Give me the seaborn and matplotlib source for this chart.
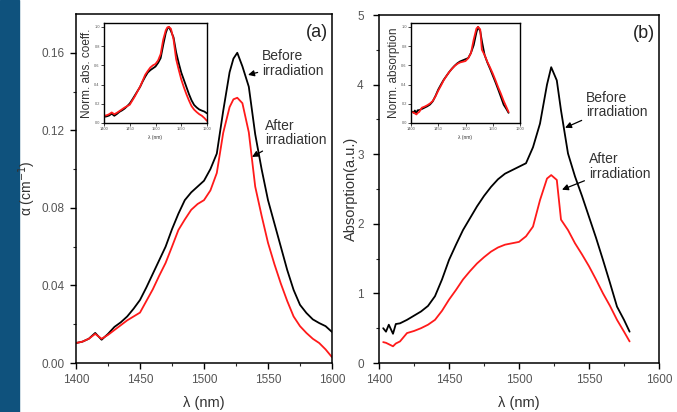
import numpy as np
import pandas as pd
import matplotlib
matplotlib.use("Agg")
import matplotlib.pyplot as plt
import seaborn as sns
from matplotlib.patches import Rectangle

sns.set_style("ticks")
plt.rcParams['font.family'] = ['Liberation Sans', 'DejaVu Sans']

# ---- Panel (a) data: absorption coefficient (cm^-1) ----
wl_a = [1400, 1405, 1410, 1415, 1420, 1425, 1430, 1435, 1440, 1445, 1450, 1455, 1460, 1465,
        1470, 1475, 1480, 1485, 1490, 1495, 1500, 1505, 1510, 1515, 1520, 1523, 1526, 1530,
        1535, 1540, 1545, 1550, 1555, 1560, 1565, 1570, 1575, 1580, 1585, 1590, 1595, 1600]
before_a = [0.0103, 0.0110, 0.0125, 0.0155, 0.0120, 0.0150, 0.0186, 0.0210, 0.0240, 0.0280,
            0.0325, 0.0390, 0.0460, 0.0530, 0.0600, 0.0690, 0.0770, 0.0840, 0.0880, 0.0910,
            0.0940, 0.1000, 0.1080, 0.1300, 0.1500, 0.1570, 0.1600, 0.1530, 0.1425, 0.1180,
            0.1000, 0.0840, 0.0720, 0.0600, 0.0480, 0.0377, 0.0300, 0.0258, 0.0225, 0.0206,
            0.0190, 0.0160]
after_a = [0.0103, 0.0110, 0.0125, 0.0150, 0.0125, 0.0145, 0.0170, 0.0195, 0.0220, 0.0240,
           0.0260, 0.0320, 0.0380, 0.0450, 0.0516, 0.0600, 0.0686, 0.0740, 0.0790, 0.0820,
           0.0840, 0.0890, 0.0980, 0.1187, 0.1320, 0.1360, 0.1368, 0.1340, 0.1190, 0.0910,
           0.0760, 0.0620, 0.0510, 0.0410, 0.0320, 0.0240, 0.0190, 0.0155, 0.0125, 0.0103,
           0.0070, 0.0030]

# ---- Panel (b) data: absorption (a.u.) ----
wl_b = [1403, 1405, 1407, 1410, 1412, 1415, 1420, 1425, 1430, 1435, 1440, 1445, 1450, 1455,
        1460, 1465, 1470, 1475, 1480, 1485, 1490, 1495, 1500, 1505, 1510, 1515, 1520, 1523,
        1527, 1530, 1535, 1540, 1545, 1550, 1555, 1560, 1565, 1570, 1575, 1579]
before_b = [0.50, 0.45, 0.55, 0.42, 0.56, 0.57, 0.62, 0.68, 0.74, 0.82, 0.96, 1.20, 1.48, 1.70,
            1.91, 2.08, 2.25, 2.40, 2.53, 2.64, 2.72, 2.77, 2.82, 2.87, 3.10, 3.44, 4.00, 4.25,
            4.06, 3.63, 3.01, 2.68, 2.40, 2.10, 1.80, 1.48, 1.15, 0.81, 0.62, 0.45]
after_b = [0.30, 0.29, 0.27, 0.24, 0.28, 0.31, 0.43, 0.46, 0.50, 0.55, 0.62, 0.75, 0.91, 1.05,
           1.20, 1.32, 1.43, 1.52, 1.60, 1.66, 1.70, 1.72, 1.74, 1.82, 1.96, 2.34, 2.65, 2.70,
           2.63, 2.06, 1.91, 1.72, 1.56, 1.39, 1.20, 1.00, 0.82, 0.62, 0.45, 0.31]

xticks = [1400, 1450, 1500, 1550, 1600]
yticks_a = [0.00, 0.04, 0.08, 0.12, 0.16]
yticks_b = [0, 1, 2, 3, 4, 5]

def frame(wl, before, after, norm=False):
    b = np.array(before, float)
    a = np.array(after, float)
    if norm:
        b = b / b.max()
        a = a / a.max()
    return pd.concat([
        pd.DataFrame({"wl": wl, "val": b, "state": "Before irradiation"}),
        pd.DataFrame({"wl": wl, "val": a, "state": "After irradiation"}),
    ])

pal = {"Before irradiation": "black", "After irradiation": "#ff1a1a"}
tick_col = "#555555"
text_col = "#333333"

fig = plt.figure(figsize=(6.77, 4.12), dpi=100)
fig.patches.append(Rectangle((0, 0), 19 / 677, 1, transform=fig.transFigure,
                             color="#0F527D", zorder=-1))

axA = fig.add_axes([76 / 677, 1 - 363 / 412, 256 / 677, 349 / 412])
axB = fig.add_axes([379 / 677, 1 - 363 / 412, 280 / 677, 348 / 412])

def style_main(ax):
    for s in ax.spines.values():
        s.set_linewidth(1.1)
        s.set_color("black")
    ax.tick_params(direction="out", length=4, width=1, labelsize=8.5, pad=4,
                   labelcolor=tick_col, colors="black")
    ax.tick_params(which="minor", direction="out", length=2.5, width=0.8)
    ax.tick_params(top=False, right=False, which="both")

arrow = dict(arrowstyle="-|>", color="black", lw=0.9, mutation_scale=9,
             shrinkA=1, shrinkB=0)
ann_kw = dict(fontsize=10, color=text_col, va="center", ha="left",
              linespacing=1.05, annotation_clip=False)

sns.lineplot(data=frame(wl_a, before_a, after_a), x="wl", y="val", hue="state",
             palette=pal, ax=axA, legend=False, linewidth=1.3, sort=False)
axA.set_xlim(1400, 1600)
axA.set_ylim(0, 0.18)
axA.set_xticks(xticks)
axA.set_yticks(yticks_a)
axA.set_yticklabels([f"{v:.2f}" for v in yticks_a])
axA.set_xticks([1425, 1475, 1525, 1575], minor=True)
axA.set_yticks([0.02, 0.06, 0.10, 0.14], minor=True)
axA.set_xlabel("λ (nm)", fontsize=10.5, color=text_col, labelpad=7)
axA.set_ylabel("α (cm$^{-1}$)", fontsize=10, color=text_col)
axA.yaxis.set_label_coords((38 - 76) / 256, 0.5)
style_main(axA)
axA.text(0.985, 0.97, "(a)", transform=axA.transAxes, ha="right", va="top",
         fontsize=13, color="#222222")
axA.annotate("Before\nirradiation", xy=(1534.4, 0.1486), xytext=(1545.5, 0.1545),
             arrowprops=arrow, **ann_kw)
axA.annotate("After\nirradiation", xy=(1537.5, 0.1063), xytext=(1547.5, 0.1187),
             arrowprops=arrow, **ann_kw)

sns.lineplot(data=frame(wl_b, before_b, after_b), x="wl", y="val", hue="state",
             palette=pal, ax=axB, legend=False, linewidth=1.3, sort=False)
axB.set_xlim(1400, 1600)
axB.set_ylim(0, 5)
axB.set_xticks(xticks)
axB.set_yticks(yticks_b)
axB.set_xticks([1425, 1475, 1525, 1575], minor=True)
axB.set_yticks([0.5, 1.5, 2.5, 3.5, 4.5], minor=True)
axB.set_xlabel("λ (nm)", fontsize=10.5, color=text_col, labelpad=7)
axB.set_ylabel("Absorption(a.u.)", fontsize=10.5, color=text_col)
axB.yaxis.set_label_coords((358 - 379) / 280, 0.5)
style_main(axB)
axB.tick_params(axis="y", pad=7)
axB.text(0.985, 0.97, "(b)", transform=axB.transAxes, ha="right", va="top",
         fontsize=13, color="#222222")
axB.annotate("Before\nirradiation", xy=(1532.9, 3.38), xytext=(1548.0, 3.71),
             arrowprops=arrow, **ann_kw)
axB.annotate("After\nirradiation", xy=(1530.7, 2.49), xytext=(1550.0, 2.82),
             arrowprops=arrow, **ann_kw)

# ---- insets ----
insA = fig.add_axes([104 / 677, 1 - 123 / 412, 103 / 677, 100 / 412])
insB = fig.add_axes([411 / 677, 1 - 123 / 412, 109 / 677, 100 / 412])

def style_inset(ax, ylabel):
    for s in ax.spines.values():
        s.set_linewidth(1.0)
        s.set_color("black")
    ax.set_xlim(1400, 1600)
    ax.set_ylim(0, 1.04)
    ax.set_xticks(xticks)
    ax.set_yticks([0.0, 0.2, 0.4, 0.6, 0.8, 1.0])
    ax.tick_params(direction="out", length=2, width=0.6, labelsize=2.8,
                   labelcolor=tick_col, pad=1)
    ax.set_xlabel("λ (nm)", fontsize=3.5, color=text_col, labelpad=2.5)
    ax.set_ylabel(ylabel, fontsize=8.5, color=text_col, labelpad=1)

sns.lineplot(data=frame(wl_a, before_a, after_a, norm=True), x="wl", y="val",
             hue="state", palette=pal, ax=insA, legend=False, linewidth=1.3, sort=False)
style_inset(insA, "Norm. abs. coeff.")
sns.lineplot(data=frame(wl_b, before_b, after_b, norm=True), x="wl", y="val",
             hue="state", palette=pal, ax=insB, legend=False, linewidth=1.3, sort=False)
style_inset(insB, "Norm. absorption")

fig.savefig("out.png", dpi=100)
